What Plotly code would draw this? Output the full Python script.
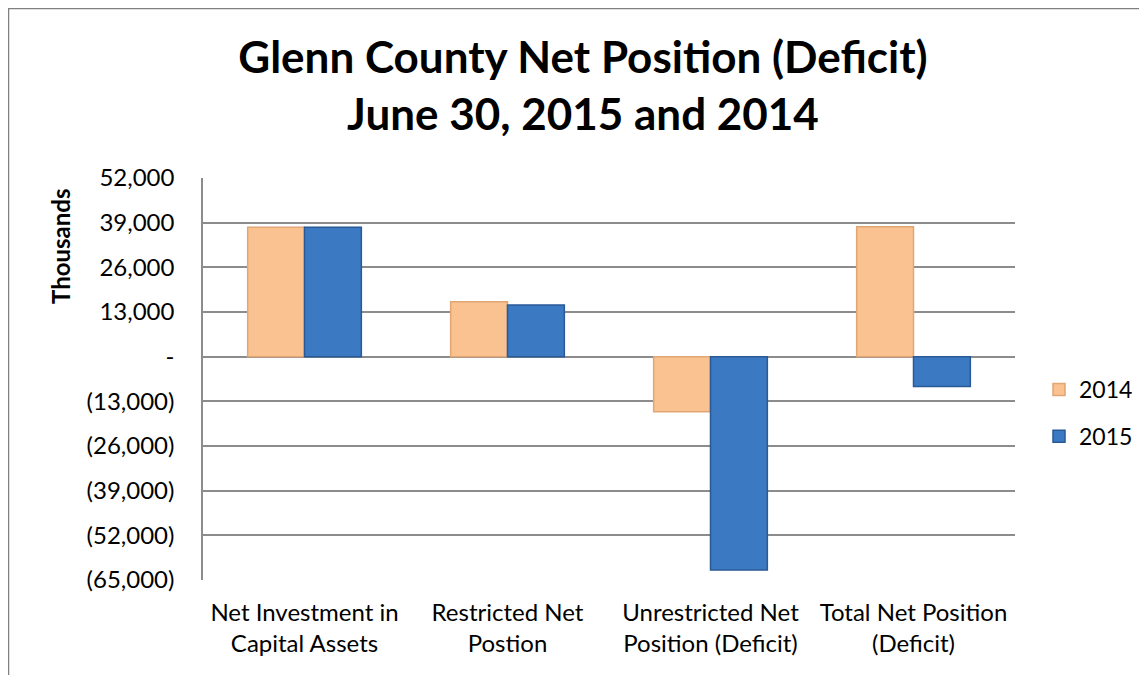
import plotly.graph_objects as go

categories = ["Net Investment in<br>Capital Assets", "Restricted Net<br>Postion",
              "Unrestricted Net<br>Position (Deficit)", "Total Net Position<br>(Deficit)"]
values_2014 = [37650, 16000, -16000, 37800]
values_2015 = [37650, 15050, -62100, -8700]
tick_vals = [52000, 39000, 26000, 13000, 0, -13000, -26000, -39000, -52000, -65000]
tick_text = ["52,000", "39,000", "26,000", "13,000", "-", "(13,000)", "(26,000)",
             "(39,000)", "(52,000)", "(65,000)"]

FONT = "Lato"
OFF = 8  # page body margin
W, H = 1147 - OFF, 675 - OFF
L, R, T, B = 203 - OFF, 1015 - OFF, 178 - OFF, 580 - OFF
pw, ph = R - L, B - T

def px(x):
    # x in screenshot pixels -> paper coordinate
    return (x - OFF - L) / pw

def py(y):
    return (B - (y - OFF)) / ph

fig = go.Figure()
fig.add_trace(go.Bar(name="2014", x=categories, y=values_2014, legendgroup="a",
                     marker=dict(color="#F9C290", line=dict(color="#E0A674", width=1.5))))
fig.add_trace(go.Bar(name="2015", x=categories, y=values_2015, legendgroup="b",
                     marker=dict(color="#3B7AC3", line=dict(color="#2A5A96", width=1.5))))

fig.update_layout(
    width=W, height=H,
    margin=dict(l=L, r=W - R, t=T, b=H - B, autoexpand=False),
    paper_bgcolor="white", plot_bgcolor="white",
    barmode="group", bargap=0.44, bargroupgap=0.0,
    font=dict(family=FONT, color="black", size=24),
    title=dict(text="<b>Glenn County Net Position (Deficit)<br>June 30, 2015 and 2014</b>",
               x=575 / W, xanchor="center", y=1 - 65 / H, yanchor="middle",
               font=dict(family=FONT, size=44, color="black")),
    legend=dict(x=px(1039), xanchor="left", y=py(413), yanchor="middle",
                font=dict(family=FONT, size=23), traceorder="grouped",
                tracegroupgap=14, itemwidth=30, bgcolor="rgba(0,0,0,0)"),
    showlegend=True,
)
fig.update_xaxes(showgrid=False, showline=False, ticks="", tickfont=dict(size=24),
                 ticklabelstandoff=16)
fig.update_yaxes(range=[-65000, 52000], tickvals=tick_vals, ticktext=tick_text,
                 showgrid=True, gridcolor="#8C8C8C", gridwidth=1.5,
                 zeroline=True, zerolinecolor="#8C8C8C", zerolinewidth=1.5,
                 showline=True, linecolor="#8C8C8C", linewidth=1.5,
                 ticks="", tickfont=dict(size=24), ticklabelstandoff=22)

fig.add_annotation(text="<b>Thousands</b>", xref="paper", yref="paper",
                   x=px(60), y=py(247), xanchor="center", yanchor="middle",
                   textangle=-90, showarrow=False,
                   font=dict(family=FONT, size=24, color="black"))

# outer chart frame (top and left edges)
fig.add_shape(type="line", xref="paper", yref="paper", x0=px(7), x1=px(1147 + 20),
              y0=py(8), y1=py(8), line=dict(color="#808080", width=2.5))
fig.add_shape(type="line", xref="paper", yref="paper", x0=px(8), x1=px(8),
              y0=py(7), y1=py(675 + 20), line=dict(color="#808080", width=2.5))

fig.write_html("out.html")
